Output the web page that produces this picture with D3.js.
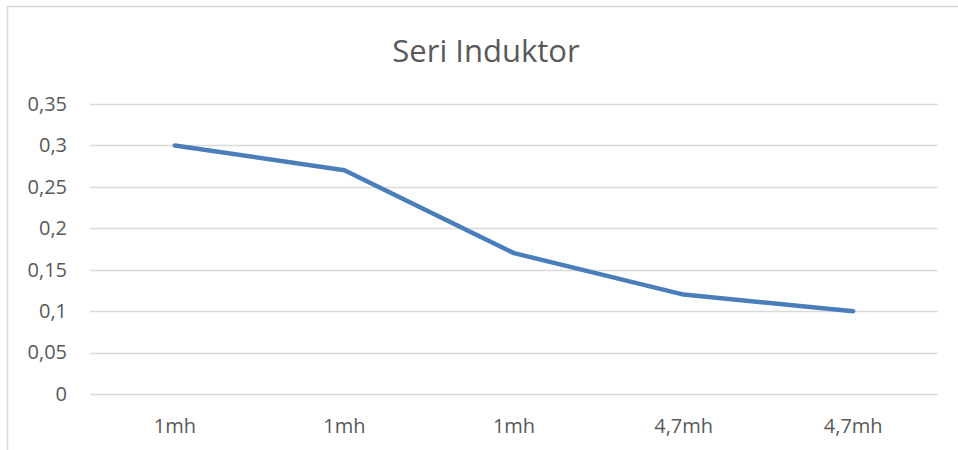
<!DOCTYPE html>
<html><head><meta charset="utf-8">
<script src="https://cdn.jsdelivr.net/npm/d3@7"></script>
<style>body{margin:0;background:#fff;} text{font-family:"Open Sans","Noto Sans",sans-serif;}</style>
</head><body><svg id="c" width="958" height="450"></svg>
<script>
const categories = ["1mh","1mh","1mh","4,7mh","4,7mh"];
const values = [0.3, 0.27, 0.17, 0.12, 0.1];
const yTicks = [0,0.05,0.1,0.15,0.2,0.25,0.3,0.35];
const title = "Seri Induktor";

const svg = d3.select("#c");
svg.append("rect").attr("x",7.5).attr("y",6.5).attr("width",980).attr("height",480)
  .attr("fill","#fff").attr("stroke","#d9d9d9").attr("stroke-width",1.5);

const m = {l:90, r:938, t:104, b:394};
const x = d3.scaleBand().domain(d3.range(categories.length)).range([m.l,m.r]);
const y = d3.scaleLinear().domain([0,0.35]).range([m.b,m.t]);

svg.append("g").selectAll("line").data(yTicks).join("line")
  .attr("x1",m.l).attr("x2",m.r).attr("y1",d=>Math.round(y(d))+0.5).attr("y2",d=>Math.round(y(d))+0.5)
  .attr("stroke","#d9d9d9").attr("stroke-width",1.5);

const fmt = d => String(+d.toFixed(2)).replace(".",",");
const ya = svg.append("g").attr("transform",`translate(${m.l},0)`)
  .call(d3.axisLeft(y).tickValues(yTicks).tickFormat(fmt).tickSize(0).tickPadding(23));
ya.select(".domain").remove();
ya.selectAll("text").attr("fill","#595959").style("font-size","20px");

const xa = svg.append("g").attr("transform",`translate(0,${m.b})`)
  .call(d3.axisBottom(x).tickFormat(i=>categories[i]).tickSize(0).tickPadding(25));
xa.select(".domain").remove();
xa.selectAll("text").attr("fill","#595959").style("font-size","20px");

const line = d3.line().x((d,i)=>x(i)+x.bandwidth()/2).y(d=>y(d));
svg.append("path").datum(values).attr("d",line).attr("fill","none")
  .attr("stroke","#4a7ebb").attr("stroke-width",4.5).attr("stroke-linecap","round").attr("stroke-linejoin","round");

svg.append("text").attr("x",486).attr("y",62).attr("text-anchor","middle")
  .attr("fill","#595959").style("font-size","31px").text(title);
</script></body></html>
